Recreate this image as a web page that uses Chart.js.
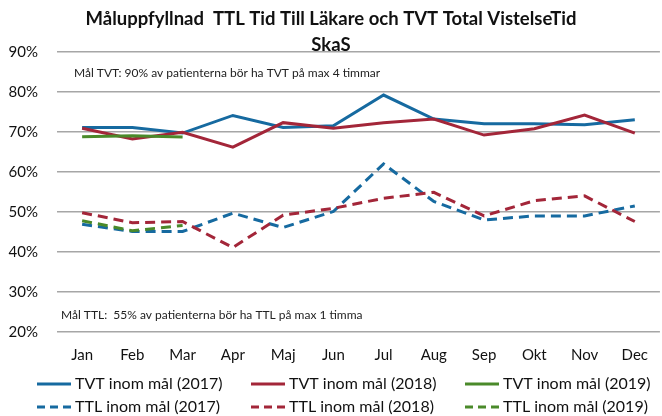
<!DOCTYPE html>
<html>
<head>
<meta charset="utf-8">
<script src="https://cdn.jsdelivr.net/npm/chart.js@4/dist/chart.umd.min.js"></script>
<style>
  html, body { margin: 0; padding: 0; background: #fff; }
  #wrap { width: 662px; height: 416px; }
</style>
</head>
<body>
<div id="wrap"><canvas id="chart" width="662" height="416"></canvas></div>
<script>
// months on the x axis
var months = ['Jan', 'Feb', 'Mar', 'Apr', 'Maj', 'Jun', 'Jul', 'Aug', 'Sep', 'Okt', 'Nov', 'Dec'];

// TVT inom mål, percent
var tvt2017 = [71.1, 71.1, 69.7, 74.1, 71.1, 71.5, 79.2, 73.2, 72.0, 72.0, 71.8, 73.0];
var tvt2018 = [70.9, 68.2, 69.9, 66.2, 72.3, 70.9, 72.3, 73.2, 69.2, 70.8, 74.2, 69.7];
var tvt2019 = [68.8, 69.0, 68.7];

// TTL inom mål, percent
var ttl2017 = [46.9, 45.1, 45.1, 49.7, 46.1, 50.1, 62.0, 52.6, 48.0, 49.0, 49.0, 51.5];
var ttl2018 = [49.8, 47.3, 47.6, 41.1, 49.2, 50.9, 53.4, 54.9, 49.0, 52.8, 54.0, 47.6];
var ttl2019 = [47.8, 45.3, 46.6];

var seriesLabels = ['TVT inom mål (2017)', 'TVT inom mål (2018)', 'TVT inom mål (2019)',
                    'TTL inom mål (2017)', 'TTL inom mål (2018)', 'TTL inom mål (2019)'];

var noteTVT = 'Mål TVT: 90% av patienterna bör ha TVT på max 4 timmar';
var noteTTL = 'Mål TTL:  55% av patienterna bör ha TTL på max 1 timma';

var blue = '#166aa0';
var red = '#a32639';
var green = '#4a8a2a';
var FONT = 'Lato, "Open Sans", sans-serif';

function line(label, data, color, dashed, i) {
    return {
        label: label,
        data: data,
        borderColor: color,
        backgroundColor: color,
        borderWidth: 3,
        borderDash: dashed ? [10, 6] : [],
        pointRadius: 0,
        tension: 0,
        fill: false,
        order: 6 - i
    };
}

// text notes inside the plot and the legend at the bottom
var extras = {
    id: 'extras',
    afterDraw: function (chart) {
        var ctx = chart.ctx;
        ctx.save();
        ctx.fillStyle = '#222';
        ctx.font = '12px ' + FONT;
        ctx.textBaseline = 'middle';
        ctx.textAlign = 'left';
        ctx.fillText(noteTVT, 74, 73);
        ctx.fillText(noteTTL, 61, 315);

        // legend, 3 columns x 2 rows
        ctx.font = '16px ' + FONT;
        chart.data.datasets.forEach(function (ds, i) {
            var col = i % 3, row = Math.floor(i / 3);
            var x = 37 + col * 214;
            var y = 384 + row * 23;
            ctx.strokeStyle = ds.borderColor;
            ctx.lineWidth = 3;
            ctx.setLineDash(ds.borderDash.length ? [8, 5] : []);
            ctx.beginPath();
            ctx.moveTo(x, y);
            ctx.lineTo(x + 34, y);
            ctx.stroke();
            ctx.setLineDash([]);
            ctx.fillStyle = '#111';
            ctx.fillText(ds.label, x + 38, y);
        });
        ctx.restore();
    }
};

var ctx = document.getElementById('chart').getContext('2d');
new Chart(ctx, {
    type: 'line',
    data: {
        labels: months,
        datasets: [
            line(seriesLabels[0], tvt2017, blue, false, 0),
            line(seriesLabels[1], tvt2018, red, false, 1),
            line(seriesLabels[2], tvt2019, green, false, 2),
            line(seriesLabels[3], ttl2017, blue, true, 3),
            line(seriesLabels[4], ttl2018, red, true, 4),
            line(seriesLabels[5], ttl2019, green, true, 5)
        ]
    },
    options: {
        responsive: false,
        animation: false,
        layout: { padding: { left: 0, right: 0, top: 0, bottom: 0 } },
        plugins: {
            legend: { display: false },
            tooltip: { enabled: false },
            title: {
                display: true,
                text: ['Måluppfyllnad  TTL Tid Till Läkare och TVT Total VistelseTid', 'SkaS'],
                color: '#111',
                font: { family: FONT, size: 18.5, weight: 'bold', lineHeight: 1.4 },
                padding: { top: 6, bottom: -6 }
            }
        },
        scales: {
            x: {
                offset: true,
                grid: { display: false, drawTicks: false },
                border: { display: false },
                ticks: { color: '#111', font: { family: FONT, size: 15 }, padding: 14, maxRotation: 0, autoSkip: false },
                afterFit: function (scale) { scale.height = 84; }
            },
            y: {
                min: 20,
                max: 90,
                grid: { color: '#a6a6a6', lineWidth: 1.5, drawTicks: false },
                border: { display: false },
                ticks: {
                    stepSize: 10,
                    color: '#111',
                    font: { family: FONT, size: 15 },
                    padding: 19,
                    callback: function (v) { return v + '%'; }
                },
                afterFit: function (scale) { scale.width = 57; }
            }
        }
    },
    plugins: [extras]
});
</script>
</body>
</html>
